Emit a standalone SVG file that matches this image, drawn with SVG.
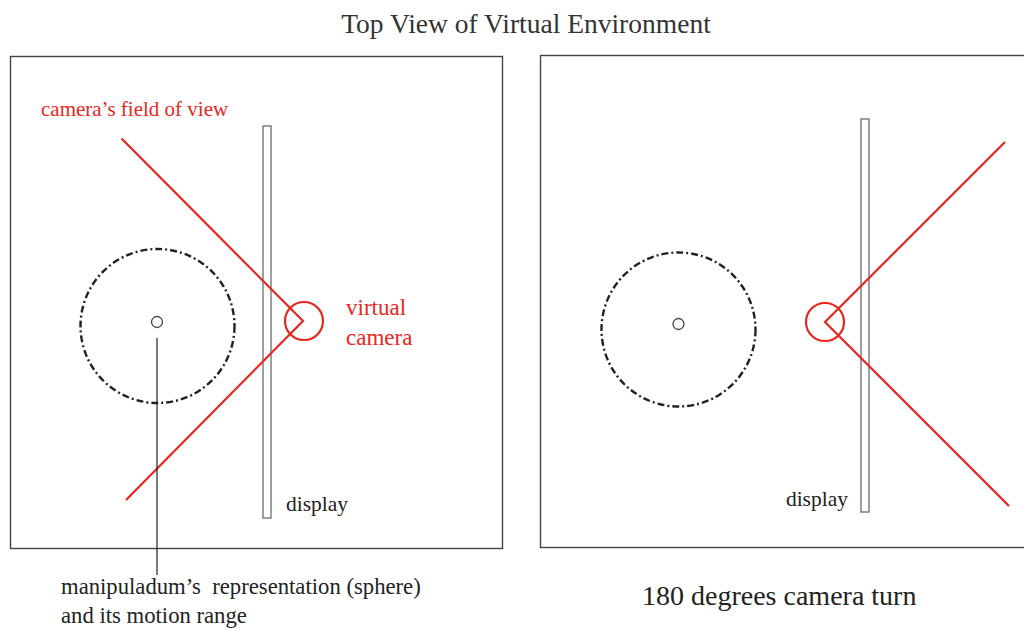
<svg xmlns="http://www.w3.org/2000/svg" width="1024" height="631" viewBox="0 0 1024 631">
  <style>
    .frame { fill: none; stroke: #444; stroke-width: 1.4; }
    .screen { fill: #fff; stroke: #777; stroke-width: 1.4; }
    .range { fill: none; stroke: #222; stroke-width: 2.4; stroke-dasharray: 7 3 2 3; }
    .sphere { fill: #fff; stroke: #444; stroke-width: 1.3; }
    .cam { fill: none; stroke: #e8261e; stroke-width: 2.2; }
    .fov { fill: none; stroke: #e8261e; stroke-width: 2.2; }
    .lead { stroke: #222; stroke-width: 1.2; }
    text { font-family: "Liberation Serif", "Times New Roman", serif; }
    .title { font-size: 27.5px; fill: #333; }
    .lbl { font-size: 21.5px; fill: #222; }
    .note { font-size: 22.7px; fill: #222; }
    .red { font-size: 21px; fill: #e8261e; }
    .red-lg { font-size: 23px; fill: #e8261e; }
    .caption { font-size: 28px; fill: #222; }
  </style>

  <rect width="1024" height="631" fill="#fff"/>

  <text class="title" x="526" y="33" text-anchor="middle">Top View of Virtual Environment</text>

  <!-- left panel: camera looking left through the display -->
  <g id="panel-left">
    <rect class="frame" x="10.5" y="56.5" width="492" height="492"/>
  </g>
  <g id="display-left">
    <rect class="screen" x="263" y="126" width="8" height="392"/>
    <text class="lbl" x="286" y="511">display</text>
  </g>
  <g id="range-left">
    <circle class="range" cx="157.5" cy="326" r="77"/>
    <circle class="sphere" cx="157" cy="322" r="5.5"/>
  </g>
  <g id="camera-left">
    <circle class="cam" cx="304" cy="321" r="19"/>
    <text class="red-lg" x="346" y="315">virtual</text>
    <text class="red-lg" x="346" y="345">camera</text>
  </g>
  <g id="fov-label">
    <text class="red" x="41" y="116">camera’s field of view</text>
  </g>

  <!-- right panel: camera turned 180 degrees -->
  <g id="panel-right">
    <rect class="frame" x="540.5" y="55.5" width="500" height="492"/>
  </g>
  <g id="display-right">
    <rect class="screen" x="861" y="119" width="8" height="393"/>
    <text class="lbl" x="848" y="506" text-anchor="end">display</text>
  </g>
  <g id="range-right">
    <circle class="range" cx="678.5" cy="329.5" r="77"/>
    <circle class="sphere" cx="678.5" cy="324" r="5.5"/>
  </g>
  <g id="camera-right">
    <circle class="cam" cx="825" cy="322" r="19"/>
  </g>

  <g id="connectors">
    <polyline class="fov" points="121.5,138.5 303,321 126,500"/>
    <polyline class="fov" points="1005,142 825,322 1009,506"/>
    <line class="lead" x1="157" y1="338" x2="157" y2="575"/>
  </g>

  <g id="sphere-label">
    <text class="note" x="61" y="594" xml:space="preserve">manipuladum’s  representation (sphere)</text>
    <text class="note" x="61" y="623">and its motion range</text>
  </g>
  <g id="turn-caption">
    <text class="caption" x="642" y="605">180 degrees camera turn</text>
  </g>
</svg>
